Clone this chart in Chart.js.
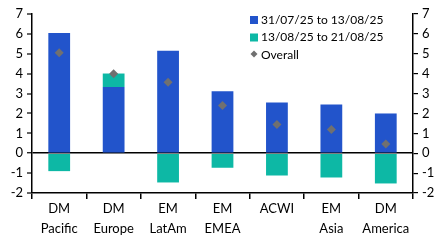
<!DOCTYPE html>
<html>
<head>
<meta charset="utf-8">
<script src="https://cdn.jsdelivr.net/npm/chart.js@4/dist/chart.umd.min.js"></script>
<style>
  html, body { margin: 0; padding: 0; background: #fff; overflow: hidden; }
  canvas { display: block; }
</style>
</head>
<body>
<canvas id="myChart" width="445" height="245"></canvas>
<script>
// data
const categories = [['DM', 'Pacific'], ['DM', 'Europe'], ['EM', 'LatAm'], ['EM', 'EMEA'], ['ACWI'], ['EM', 'Asia'], ['DM', 'America']];
const firstPeriod = [6.05, 3.33, 5.15, 3.12, 2.55, 2.45, 2.0];
const secondPeriod = [-0.9, 0.68, -1.47, -0.73, -1.12, -1.22, -1.52];
const overall = [5.05, 4.0, 3.57, 2.4, 1.45, 1.2, 0.47];
const seriesNames = ['31/07/25 to 13/08/25', '13/08/25 to 21/08/25', 'Overall'];

const BLUE = '#2254CB';
const TEAL = '#0DB8A5';
const GREY = '#707070';
const FONT = { family: 'Lato', size: 13, lineHeight: 1.55 };

// legend drawn inside the plot, top right
const innerLegend = {
    id: 'innerLegend',
    afterDraw(chart) {
        const ctx = chart.ctx;
        const x = 250, y0 = 20, step = 17.5;
        ctx.save();
        ctx.font = '12px Lato';
        ctx.textBaseline = 'middle';
        ctx.fillStyle = BLUE;
        ctx.fillRect(x, y0 - 4, 8, 8);
        ctx.fillStyle = TEAL;
        ctx.fillRect(x, y0 + step - 4, 8, 8);
        ctx.fillStyle = GREY;
        ctx.beginPath();
        const cx = x + 4, cy = y0 + 2 * step - 1;
        ctx.moveTo(cx, cy - 3.5); ctx.lineTo(cx + 3.5, cy); ctx.lineTo(cx, cy + 3.5); ctx.lineTo(cx - 3.5, cy);
        ctx.closePath(); ctx.fill();
        ctx.fillStyle = '#000';
        seriesNames.forEach((n, i) => ctx.fillText(n, x + 11, y0 + i * step));
        ctx.restore();
    }
};

const yTicks = { color: '#000', font: FONT, stepSize: 1, padding: 4, autoSkip: false };

new Chart(document.getElementById('myChart'), {
    type: 'bar',
    data: {
        labels: categories,
        datasets: [
            { label: seriesNames[0], data: firstPeriod, backgroundColor: BLUE, categoryPercentage: 0.8, barPercentage: 0.5, order: 2 },
            { label: seriesNames[1], data: secondPeriod, backgroundColor: TEAL, categoryPercentage: 0.8, barPercentage: 0.5, order: 2 },
            {
                type: 'line', label: seriesNames[2], data: overall, yAxisID: 'y2',
                showLine: false, pointStyle: 'rectRot', pointRadius: 4.5, pointHoverRadius: 4.5,
                backgroundColor: GREY, borderColor: GREY, borderWidth: 0, order: 1
            }
        ]
    },
    options: {
        responsive: false,
        animation: false,
        layout: { padding: { top: 3, bottom: 0 } },
        plugins: { legend: { display: false }, tooltip: { enabled: false } },
        scales: {
            x: {
                stacked: true,
                grid: { offset: true, drawOnChartArea: false, color: '#000', tickLength: 6, lineWidth: 1.5 },
                border: { color: '#000', width: 1.5 },
                ticks: { color: '#000', font: FONT, padding: 0, maxRotation: 0, autoSkip: false },
                afterFit(s) { s.height = 52; }
            },
            y: {
                stacked: true, min: -2, max: 7,
                grid: {
                    color: c => c.tick && c.tick.value === 0 ? '#000' : 'rgba(0,0,0,0)',
                    lineWidth: c => c.tick && c.tick.value === 0 ? 1.5 : 0,
                    tickColor: '#000', tickWidth: 1.2, tickLength: 5, drawTicks: true
                },
                border: { color: '#000', width: 1.5 },
                ticks: yTicks,
                afterFit(s) { s.width = 32; }
            },
            y2: {
                position: 'right', min: -2, max: 7,
                grid: { drawOnChartArea: false, color: '#000', lineWidth: 1.2, tickLength: 5 },
                border: { color: '#000', width: 1.5 },
                ticks: yTicks,
                afterFit(s) { s.width = 32; }
            }
        }
    },
    plugins: [innerLegend]
});
</script>
</body>
</html>
